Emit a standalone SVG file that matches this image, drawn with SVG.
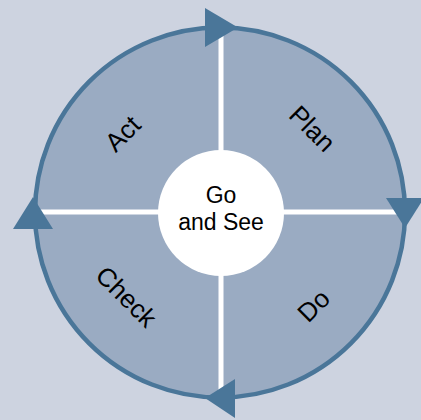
<svg xmlns="http://www.w3.org/2000/svg" width="421" height="420" viewBox="0 0 421 420">
<style>
.lbl{font-family:"Liberation Sans","Noto Sans",sans-serif;font-size:23px;fill:#000;text-anchor:middle}
.q{font-size:26px}
.arr{fill:#4a7699}
</style>
<rect width="421" height="420" fill="#cdd3e0"/>
<g id="ring">
<circle cx="220" cy="212.5" r="185" fill="#9aabc2" stroke="#4a7699" stroke-width="4.5"/>
</g>
<g id="connectors">
<line x1="221" y1="30" x2="221" y2="395" stroke="#fff" stroke-width="5"/>
<line x1="37" y1="212" x2="403" y2="212" stroke="#fff" stroke-width="5"/>
<polygon class="arr" points="205,8 205,47 238,27.5"/>
<polygon class="arr" points="386,198 424,198 405,228"/>
<polygon class="arr" points="235,379 235,418 205,398"/>
<polygon class="arr" points="33,197 13,229 53,229"/>
</g>
<g id="center">
<circle cx="221" cy="213" r="63" fill="#fff"/>
<text class="lbl" x="221" y="203">Go</text>
<text class="lbl" x="221" y="230">and See</text>
</g>
<g id="act"><text class="lbl q" transform="translate(129,140) rotate(-45)">Act</text></g>
<g id="plan"><text class="lbl q" transform="translate(306,135) rotate(45)">Plan</text></g>
<g id="check"><text class="lbl q" transform="translate(120,303) rotate(45)">Check</text></g>
<g id="do"><text class="lbl q" transform="translate(320,312) rotate(-45)">Do</text></g>
</svg>
